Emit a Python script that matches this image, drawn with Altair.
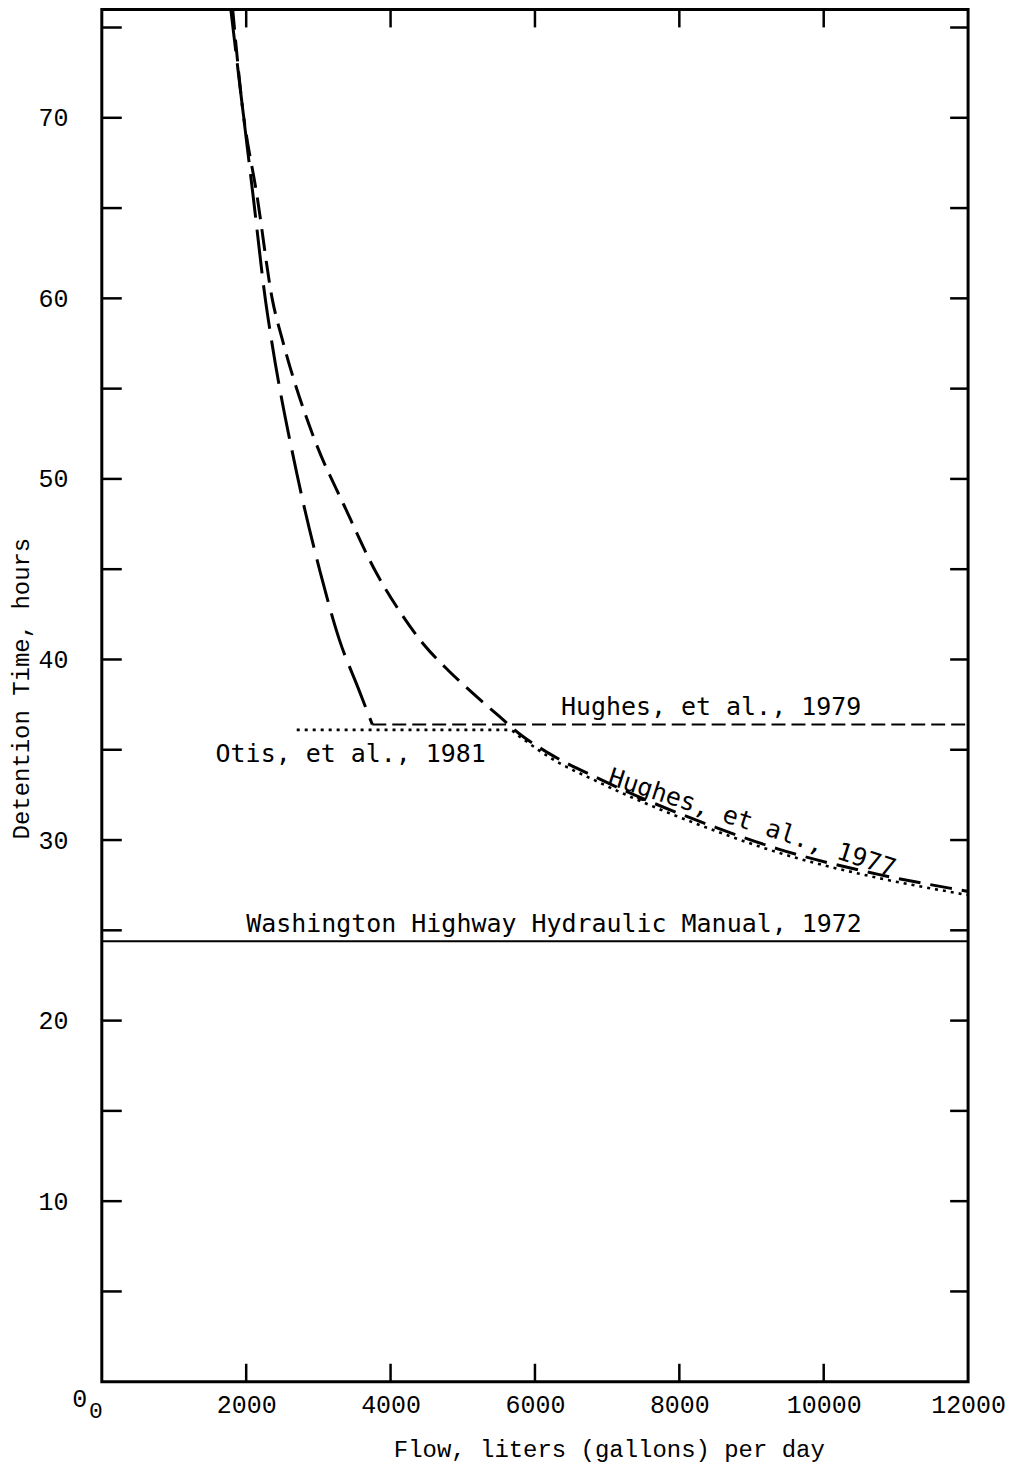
import altair as alt
import pandas as pd

# ---- data ----
otis_x = [1784, 1936, 2101, 2267, 2350, 2696, 3028, 3290, 3553, 3747]
otis_y = [76.1, 71.0, 65.5, 59.9, 57.7, 50.4, 44.8, 41.1, 38.4, 36.4]

hughes77_x = [1811, 1936, 2157, 2364, 2502, 2945, 3360, 3802, 4120, 4466, 4811, 5157, 5503,
              5779, 6194, 6885, 8503, 9374, 10756, 11931, 12000]
hughes77_y = [76.1, 71.0, 65.5, 59.9, 57.7, 52.2, 48.5, 44.8, 42.7, 40.8, 39.35, 38.07, 36.86,
              35.9, 34.8, 33.4, 30.7, 29.5, 28.1, 27.2, 27.15]

dotted_x = [2700, 5650, 5779, 6194, 6885, 8503, 9374, 10756, 11931, 12000]
dotted_y = [36.1, 36.1, 35.75, 34.6, 33.2, 30.5, 29.3, 27.9, 27.0, 26.95]

hughes79_x = [3747, 12000]
hughes79_y = [36.4, 36.4]

washington_x = [0, 12000]
washington_y = [24.4, 24.4]

x_label_values = [2000, 4000, 6000, 8000, 10000, 12000]
x_tick_values = [2000, 4000, 6000, 8000, 10000]
y_label_values = [10, 20, 30, 40, 50, 60, 70]
y_tick_values = [5, 10, 15, 20, 25, 30, 35, 40, 45, 50, 55, 60, 65, 70, 75]

label_text = ["Washington Highway Hydraulic Manual, 1972", "Hughes, et al., 1979", "Otis, et al., 1981"]
label_x = [2000, 6360, 1576]
label_y = [24.9, 36.9, 34.3]
label_size = [25, 25, 25]

rot_label_text = ["Hughes, et al., 1977"]
rot_label_x = [6996]
rot_label_y = [33.1]

W, H = 868, 1375
MONO = "Liberation Mono"
ANNO = "DejaVu Sans Mono"

x_axis = alt.Axis(values=x_label_values, format="d", ticks=False, domain=False, grid=False,
                  labelFont=MONO, labelFontSize=25, labelPadding=11, labelColor="black",
                  labelFlush=False, labelOverlap=False,
                  titleFont=MONO, titleFontSize=24, titleFontWeight="normal", titleColor="black",
                  titleX=508, titleY=75, titleAlign="center", titleBaseline="alphabetic")
y_axis = alt.Axis(values=y_label_values, format="d", ticks=False, domain=False, grid=False,
                  labelFont=MONO, labelFontSize=25, labelPadding=34, labelColor="black",
                  labelFlush=False, labelOverlap=False,
                  titleFont=MONO, titleFontSize=24, titleFontWeight="normal", titleColor="black",
                  titleX=-80, titleY=680, titleAngle=270, titleAlign="center", titleBaseline="middle")

XT = "Flow, liters (gallons) per day"
YT = "Detention Time, hours"
xs = alt.Scale(domain=[0, 12000], nice=False, zero=False)
ys = alt.Scale(domain=[0, 76], nice=False, zero=False)


def X():
    return alt.X("x:Q", scale=xs, axis=x_axis, title=XT)


def Y():
    return alt.Y("y:Q", scale=ys, axis=y_axis, title=YT)


def df(xv, yv, **extra):
    d = {"x": xv, "y": yv}
    d.update(extra)
    return pd.DataFrame(d)


order = lambda n: list(range(n))

washington = alt.Chart(df(washington_x, washington_y)).mark_line(
    color="black", strokeWidth=2).encode(x=X(), y=Y())

otis = alt.Chart(df(otis_x, otis_y, o=order(len(otis_x)))).mark_line(
    color="black", strokeWidth=3, strokeDash=[44, 12], clip=True, interpolate="monotone").encode(
    x=X(), y=Y(), order="o:Q")

hughes77 = alt.Chart(df(hughes77_x, hughes77_y, o=order(len(hughes77_x)))).mark_line(
    color="black", strokeWidth=3, strokeDash=[22, 10], clip=True, interpolate="monotone").encode(
    x=X(), y=Y(), order="o:Q")

dotted = alt.Chart(df(dotted_x, dotted_y, o=order(len(dotted_x)))).mark_line(
    color="black", strokeWidth=2.6, strokeDash=[3, 5], clip=True, interpolate="monotone").encode(
    x=X(), y=Y(), order="o:Q")

hughes79 = alt.Chart(df(hughes79_x, hughes79_y)).mark_line(
    color="black", strokeWidth=1.8, strokeDash=[14, 6]).encode(x=X(), y=Y())

labels = alt.Chart(df(label_x, label_y, t=label_text, s=label_size)).mark_text(
    align="left", baseline="alphabetic", font=ANNO, color="black").encode(
    x=X(), y=Y(), text="t:N", size=alt.Size("s:Q", scale=None, legend=None))

rot_labels = alt.Chart(df(rot_label_x, rot_label_y, t=rot_label_text)).mark_text(
    align="left", baseline="alphabetic", font=ANNO, fontSize=25, color="black", angle=18).encode(
    x=X(), y=Y(), text="t:N")

zero_main = alt.Chart(df([0], [0], t=["0"])).mark_text(
    align="center", baseline="middle", font=MONO, fontSize=25, color="black", dx=-22, dy=17).encode(
    x=X(), y=Y(), text="t:N")
zero_sub = alt.Chart(df([0], [0], t=["0"])).mark_text(
    align="center", baseline="middle", font=MONO, fontSize=23, color="black", dx=-6, dy=29).encode(
    x=X(), y=Y(), text="t:N")

left_ticks = alt.Chart(pd.DataFrame({"y": y_tick_values})).mark_rule(
    color="black", strokeWidth=2.5).encode(y=Y(), x=alt.value(0), x2=alt.value(20))
right_ticks = alt.Chart(pd.DataFrame({"y": y_tick_values})).mark_rule(
    color="black", strokeWidth=2.5).encode(y=Y(), x=alt.value(W - 18), x2=alt.value(W))
bottom_ticks = alt.Chart(pd.DataFrame({"x": x_tick_values})).mark_rule(
    color="black", strokeWidth=2.5).encode(x=X(), y=alt.value(H - 18), y2=alt.value(H))
top_ticks = alt.Chart(pd.DataFrame({"x": x_tick_values})).mark_rule(
    color="black", strokeWidth=2.5).encode(x=X(), y=alt.value(0), y2=alt.value(18))

chart = alt.layer(
    washington, hughes79, dotted, otis, hughes77,
    labels, rot_labels, zero_main, zero_sub,
    left_ticks, right_ticks, bottom_ticks, top_ticks,
).properties(
    width=W, height=H,
    autosize=alt.AutoSizeParams(type="none"),
    padding={"left": 94, "top": 0, "right": 45, "bottom": 90},
    background="white",
).configure_view(stroke="black", strokeWidth=3)

chart.save("out.html", embed_options={"renderer": "svg", "actions": False})
